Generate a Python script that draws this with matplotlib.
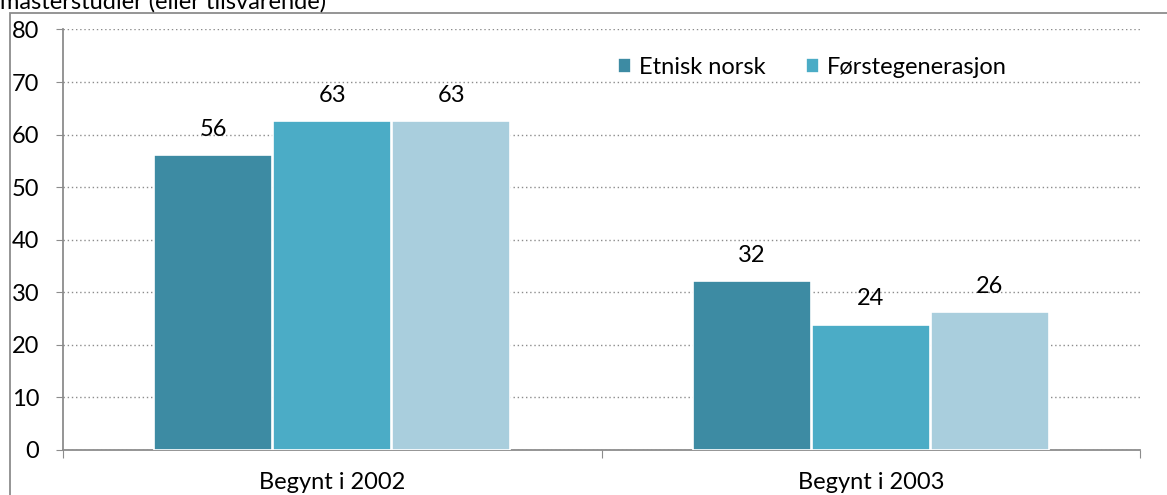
import matplotlib
matplotlib.use("Agg")
import matplotlib.pyplot as plt
from matplotlib.patches import Rectangle
import numpy as np

plt.rcParams["font.family"] = ["Lato", "DejaVu Sans"]

categories = ["Begynt i 2002", "Begynt i 2003"]
series_names = ["Etnisk norsk", "Førstegenerasjon", "Andregenerasjon"]
values = [
    [56.1, 32.1],
    [62.6, 23.8],
    [62.6, 26.2],
]
bar_labels = [
    ["56", "32"],
    ["63", "24"],
    ["63", "26"],
]
colors = ["#3d8ba3", "#4bacc6", "#a9cedd"]
yticks = [0, 10, 20, 30, 40, 50, 60, 70, 80]

fig = plt.figure(figsize=(11.67, 4.95), dpi=100)
ax = fig.add_axes([63 / 1167, 1 - 450 / 495, (1140 - 63) / 1167, (450 - 29.5) / 495])

x = np.arange(len(categories))
width = 0.22
handles = []
for i, (name, vals) in enumerate(zip(series_names, values)):
    bars = ax.bar(x + (i - 1) * 0.221, vals, width, color=colors[i],
                  edgecolor="white", linewidth=1.2, zorder=3, label=name)
    handles.append(bars)
    for rect, lab in zip(bars, bar_labels[i]):
        ax.annotate(lab, (rect.get_x() + rect.get_width() / 2, rect.get_height()),
                    xytext=(0, 14), textcoords="offset points",
                    ha="center", va="baseline", fontsize=17, color="black")

ax.set_xlim(-0.5, 1.5)
ax.set_ylim(0, 80)
ax.set_yticks(yticks)
ax.set_yticklabels([str(v) for v in yticks], fontsize=17)
ax.yaxis.grid(True, linestyle=(0, (1, 2)), color="#8c8c8c", linewidth=1, zorder=0)
ax.set_axisbelow(True)

ax.set_xticks([-0.5, 0.5, 1.5])
ax.set_xticklabels([])
ax.set_xticks(x, minor=True)
ax.set_xticklabels(categories, minor=True, fontsize=17)
ax.tick_params(axis="x", which="major", length=6, color="#8c8c8c", direction="out")
ax.tick_params(axis="x", which="minor", length=0, pad=16)
ax.tick_params(axis="y", length=5, color="#8c8c8c", pad=12)

for side in ["top", "right"]:
    ax.spines[side].set_visible(False)
for side in ["left", "bottom"]:
    ax.spines[side].set_color("#8c8c8c")
    ax.spines[side].set_linewidth(1.3)

ax.legend(handles[:2], series_names[:2], loc="center", bbox_to_anchor=(0.696, 0.91),
          ncol=2, frameon=False, fontsize=17, handlelength=0.55, handleheight=0.55,
          handletextpad=0.35, columnspacing=1.7, borderpad=0)

# outer chart frame, cut off by the image edge
fig.patches.append(Rectangle((9.5 / 1167, -0.2), 1.2, 1.2 - 13 / 495,
                             transform=fig.transFigure, fill=False,
                             edgecolor="#8c8c8c", linewidth=1.3))
fig.text(0.0, 1 - 9 / 495, "masterstudier (eller tilsvarende)", fontsize=17,
         ha="left", va="baseline")

fig.savefig("out.png", dpi=100)
